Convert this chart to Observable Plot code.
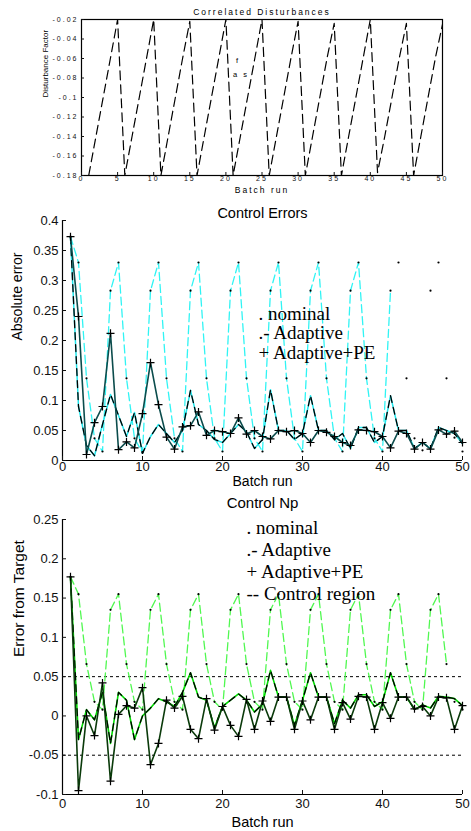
<!DOCTYPE html>
<html><head><meta charset="utf-8">
<script src="https://cdn.jsdelivr.net/npm/d3@7"></script>
<script src="https://cdn.jsdelivr.net/npm/@observablehq/plot@0.6"></script>
<style>
html,body{margin:0;padding:0;background:#fff;}
#chart{width:471px;}
#chart svg{display:block;}
</style></head><body><div id="chart"></div>
<script>
// ---- data ----
const batchRuns = [1,2,3,4,5,6,7,8,9,10,11,12,13,14,15,16,17,18,19,20,21,22,23,24,25,26,27,28,29,30,31,32,33,34,35,36,37,38,39,40,41,42,43,44,45,46,47,48,49,50];
const disturbance = [-0.18,-0.14,-0.10,-0.06,-0.02,-0.18,-0.14,-0.10,-0.06,-0.02,-0.18,-0.14,-0.10,-0.06,-0.022,-0.18,-0.14,-0.10,-0.06,-0.02,-0.18,-0.14,-0.10,-0.06,-0.02,-0.18,-0.14,-0.10,-0.06,-0.022,-0.18,-0.14,-0.10,-0.06,-0.024,-0.18,-0.14,-0.10,-0.06,-0.02,-0.177,-0.14,-0.10,-0.06,-0.024,-0.18,-0.14,-0.10,-0.06,-0.025];
const nominalErr = [0.373,0.33,0.137,0.037,0.015,0.283,0.33,0.137,0.037,0.013,0.283,0.33,0.137,0.037,0.015,0.283,0.33,0.137,0.037,0.015,0.283,0.33,0.137,0.037,0.015,0.283,0.33,0.137,0.037,0.015,0.283,0.33,0.137,0.037,0.015,0.283,0.33,0.137,0.037,0.015,0.283,0.33,0.137,0.037,0.017,0.283,0.33,0.137,0.038,0.015];
const adaptiveErr = [0.373,0.09,0.025,0.008,0.06,0.11,0.075,0.04,0.08,0.012,0.04,0.06,0.045,0.03,0.05,0.117,0.06,0.05,0.035,0.03,0.045,0.06,0.048,0.02,0.035,0.118,0.05,0.05,0.035,0.045,0.108,0.05,0.05,0.035,0.045,0.02,0.055,0.055,0.03,0.04,0.108,0.05,0.05,0.02,0.03,0.02,0.055,0.05,0.045,0.028];
const adaptivePEErr = [0.373,0.24,0.01,0.063,0.09,0.212,0.018,0.031,0.021,0.078,0.163,0.093,0.039,0.019,0.056,0.058,0.081,0.042,0.05,0.048,0.045,0.071,0.044,0.05,0.04,0.036,0.05,0.048,0.05,0.045,0.03,0.05,0.047,0.04,0.03,0.025,0.051,0.05,0.048,0.04,0.021,0.049,0.045,0.019,0.03,0.019,0.051,0.044,0.049,0.03];
const nominalNp = [0.177,0.155,0.066,0.018,0.008,0.135,0.155,0.066,0.018,0.008,0.135,0.155,0.066,0.018,0.008,0.135,0.155,0.066,0.018,0.008,0.135,0.155,0.066,0.018,0.008,0.135,0.155,0.066,0.018,0.008,0.135,0.155,0.066,0.018,0.008,0.135,0.155,0.066,0.018,0.008,0.135,0.155,0.066,0.018,0.008,0.135,0.155,0.066,0.018,0.008];
const adaptiveNp = [0.177,-0.03,0.008,-0.005,0.03,-0.035,0.03,0.02,-0.03,0.0,0.01,0.022,0.018,0.012,0.03,0.055,0.024,0.02,-0.015,0.012,0.02,0.028,0.02,0.005,0.015,0.058,0.024,0.024,-0.012,0.02,0.055,0.024,0.024,-0.01,0.02,0.01,0.027,0.027,0.012,0.018,0.055,0.024,0.024,0.008,0.014,0.01,0.025,0.024,0.022,0.013];
const adaptivePENp = [0.177,-0.095,0.0,-0.025,0.042,-0.083,0.002,0.013,0.01,0.036,-0.062,-0.035,0.02,0.01,0.025,-0.017,-0.029,0.022,-0.018,0.012,-0.012,-0.026,0.021,-0.017,0.019,-0.007,0.024,0.024,-0.017,0.019,-0.005,0.024,0.024,-0.017,0.017,-0.004,0.025,0.024,-0.017,0.017,-0.003,0.024,0.024,0.009,0.012,0.0,0.024,0.023,-0.017,0.013];
const controlRegion = [0.05, -0.05];

const xDomain = [0, 50];
const xTicksDist = [0,5,10,15,20,25,30,35,40,45,50];
const xTicks = [0,10,20,30,40,50];
const yTicksDist = [-0.18,-0.16,-0.14,-0.12,-0.1,-0.08,-0.06,-0.04,-0.02];
const yTicksErr = [0,0.05,0.1,0.15,0.2,0.25,0.3,0.35,0.4];
const yTicksNp = [-0.1,-0.05,0,0.05,0.1,0.15,0.2,0.25];

const titleDist = "Correlated Disturbances";
const titleErr = "Control Errors";
const titleNp = "Control Np";
const xLabel = "Batch run";
const yLabelDist = "Disturbance Factor";
const yLabelErr = "Absolute error";
const yLabelNp = "Error from Target";
const annotDist = [{x: 21.4, y: -0.062, text: "f"}, {x: 21.0, y: -0.077, text: "a s"}];
const legendErr = [". nominal", ".- Adaptive", "+ Adaptive+PE"];
const legendNp = [". nominal", ".- Adaptive", "+ Adaptive+PE", "-- Control region"];

// ---- table ----
const rows = batchRuns.map((run, i) => ({
  run, dist: disturbance[i],
  nomErr: nominalErr[i], adaErr: adaptiveErr[i], peErr: adaptivePEErr[i],
  nomNp: nominalNp[i], adaNp: adaptiveNp[i], peNp: adaptivePENp[i]
}));

const fmt = d => String(d);
const sans = "'Liberation Sans', Arial, sans-serif";
const serif = "'Liberation Serif', 'Times New Roman', serif";

// ---- panel 1 ----
const p1 = Plot.plot({
  width: 471, height: 200,
  marginLeft: 81, marginRight: 29, marginTop: 19, marginBottom: 25,
  style: {fontFamily: sans, fontSize: "7px", color: "#111", background: "#fff"},
  x: {domain: xDomain, label: null},
  y: {domain: [-0.18, -0.02], label: null},
  marks: [
    Plot.line(rows, {x: "run", y: "dist", stroke: "#000", strokeWidth: 1.2, strokeDasharray: "9,5", clip: true}),
    Plot.frame({stroke: "#000", strokeWidth: 1.2}),
    Plot.axisY({ticks: yTicksDist, tickSize: -3, tickPadding: 6, tickFormat: fmt, label: null, fontSize: 7}),
    Plot.axisX({ticks: xTicksDist, tickSize: -3, tickPadding: 4, tickFormat: fmt, label: null, fontSize: 7}),
    Plot.text([titleDist], {frameAnchor: "top", lineAnchor: "middle", dy: -7, fontSize: 8.5, fill: "#000"}),
    Plot.text([xLabel], {frameAnchor: "bottom", lineAnchor: "middle", dy: 15, fontSize: 8.5, fill: "#000"}),
    Plot.text([yLabelDist], {frameAnchor: "left", lineAnchor: "middle", rotate: -90, dx: -36, fontSize: 8, fill: "#000"}),
    Plot.text(annotDist, {x: "x", y: "y", text: "text", fontSize: 7.5, textAnchor: "start", fill: "#000"})
  ]
});
d3.select(p1).selectAll("text").attr("letter-spacing", 2);
d3.select(p1).selectAll("text").filter(function(){ return this.textContent === yLabelDist; }).attr("letter-spacing", 0);

// ---- panel 2 ----
const p2 = Plot.plot({
  width: 471, height: 290,
  marginLeft: 62, marginRight: 9, marginTop: 20, marginBottom: 30,
  style: {fontFamily: sans, fontSize: "13px", color: "#111", background: "#fff"},
  x: {domain: xDomain, label: null},
  y: {domain: [0, 0.4], label: null},
  marks: [
    Plot.line(rows.filter(d => d.run <= 41), {x: "run", y: "nomErr", stroke: "#30f4f4", strokeWidth: 1.3, strokeDasharray: "8,4"}),
    Plot.line(rows, {x: "run", y: "adaErr", stroke: "#22e8ee", strokeWidth: 1.5}),
    Plot.line(rows, {x: "run", y: "adaErr", stroke: "#000", strokeWidth: 1.3, strokeDasharray: "7,5"}),
    Plot.line(rows, {x: "run", y: "peErr", stroke: "#0b4c4c", strokeWidth: 1.6}),
    Plot.dot(rows, {x: "run", y: "nomErr", r: 1.1, fill: "#000"}),
    Plot.dot(rows, {x: "run", y: "peErr", symbol: "plus", r: 2.7, stroke: "#000", strokeWidth: 1.2}),
    Plot.ruleX([xDomain[0]], {stroke: "#000", strokeWidth: 1.2}),
    Plot.ruleY([yTicksErr[0]], {stroke: "#000", strokeWidth: 1.2}),
    Plot.axisY({ticks: yTicksErr, tickSize: -4, tickPadding: 8, tickFormat: fmt, label: null}),
    Plot.axisX({ticks: xTicks, tickSize: -4, tickPadding: 5, tickFormat: fmt, label: null}),
    Plot.text([titleErr], {frameAnchor: "top", lineAnchor: "middle", dy: -7, fontSize: 14.5, fill: "#000"}),
    Plot.text([xLabel], {frameAnchor: "bottom", lineAnchor: "middle", dy: 21, fontSize: 14, fill: "#000"}),
    Plot.text([yLabelErr], {frameAnchor: "left", lineAnchor: "middle", rotate: -90, dx: -45, fontSize: 14, fill: "#000"}),
    ...legendErr.map((t, i) => Plot.text([t], {frameAnchor: "top-left", lineAnchor: "middle", dx: 196, dy: 93 + i * 19.5, textAnchor: "start", fontFamily: serif, fontSize: 19, fill: "#000"}))
  ]
});

// ---- panel 3 ----
const p3 = Plot.plot({
  width: 471, height: 341,
  marginLeft: 62, marginRight: 9, marginTop: 29, marginBottom: 37,
  style: {fontFamily: sans, fontSize: "13px", color: "#111", background: "#fff"},
  x: {domain: xDomain, label: null},
  y: {domain: [-0.1, 0.25], label: null},
  marks: [
    Plot.ruleY(controlRegion, {stroke: "#000", strokeWidth: 1, strokeDasharray: "3,3"}),
    Plot.line(rows.filter(d => d.run <= 48), {x: "run", y: "nomNp", stroke: "#50f850", strokeWidth: 1.3, strokeDasharray: "8,4"}),
    Plot.line(rows, {x: "run", y: "adaNp", stroke: "#00dd00", strokeWidth: 1.6}),
    Plot.line(rows, {x: "run", y: "adaNp", stroke: "#000", strokeWidth: 1.3, strokeDasharray: "7,5"}),
    Plot.line(rows, {x: "run", y: "peNp", stroke: "#0a3a0a", strokeWidth: 1.6}),
    Plot.dot(rows, {x: "run", y: "nomNp", r: 1.1, fill: "#000"}),
    Plot.dot(rows, {x: "run", y: "peNp", symbol: "plus", r: 2.7, stroke: "#000", strokeWidth: 1.2}),
    Plot.ruleX([xDomain[0]], {stroke: "#000", strokeWidth: 1.2}),
    Plot.ruleY([yTicksNp[0]], {stroke: "#000", strokeWidth: 1.2}),
    Plot.axisY({ticks: yTicksNp, tickSize: -4, tickPadding: 8, tickFormat: fmt, label: null}),
    Plot.axisX({ticks: xTicks, tickSize: -4, tickPadding: 8, tickFormat: fmt, label: null}),
    Plot.text([titleNp], {frameAnchor: "top", lineAnchor: "middle", dy: -16, fontSize: 15, fill: "#000"}),
    Plot.text([xLabel], {frameAnchor: "bottom", lineAnchor: "middle", dy: 27.5, fontSize: 14.5, fill: "#000"}),
    Plot.text([yLabelNp], {frameAnchor: "left", lineAnchor: "middle", rotate: -90, dx: -43, fontSize: 15.5, fill: "#000"}),
    ...legendNp.map((t, i) => Plot.text([t], {frameAnchor: "top-left", lineAnchor: "middle", dx: 184, dy: 8 + i * 22, textAnchor: "start", fontFamily: serif, fontSize: 19, fill: "#000"}))
  ]
});

const chart = document.getElementById("chart");
chart.append(p1, p2, p3);
</script>
</body></html>
